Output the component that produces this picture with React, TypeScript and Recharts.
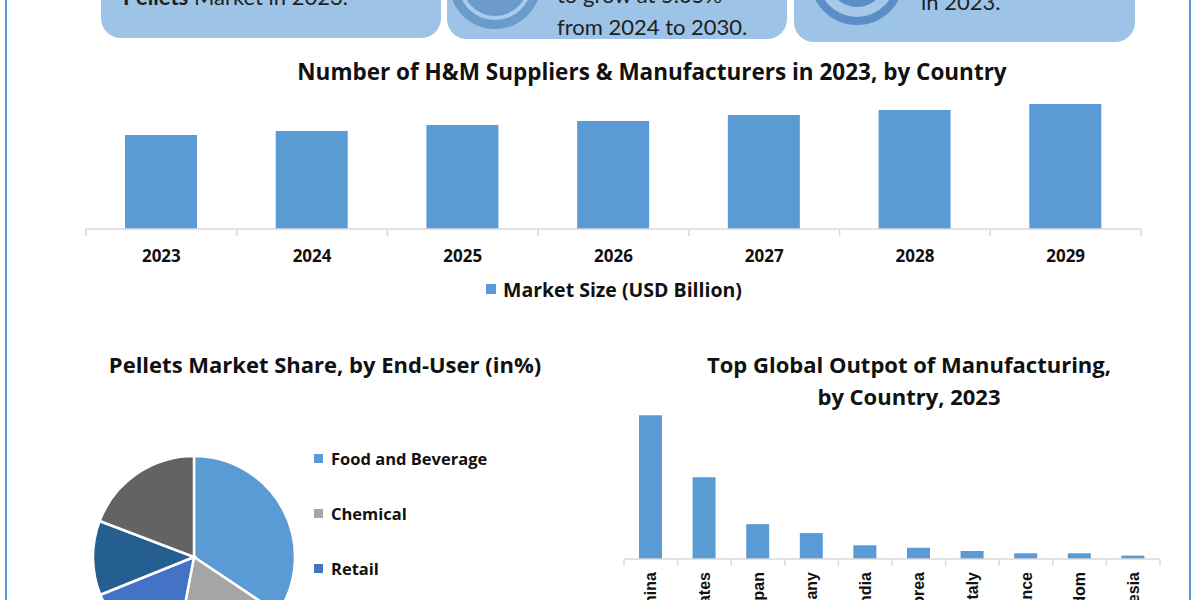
import React from 'react'
import { BarChart, Bar, XAxis, YAxis, PieChart, Pie, Cell } from 'recharts'

// market size bars (top)
const years = ['2023', '2024', '2025', '2026', '2027', '2028', '2029']
const marketSize = [9.4, 9.8, 10.4, 10.8, 11.4, 11.9, 12.5]

// end-user share pie
const endUsers = ['Food and Beverage', 'Chemical', 'Retail', 'Pharmaceutical', 'Others']
const endUserShare = [34.4, 18.6, 15.9, 11.9, 19.2]
const endUserColors = ['#5B9BD5', '#A5A5A5', '#4472C4', '#255E91', '#636363']

// manufacturing output bars (bottom right)
const countries = ['China', 'United States', 'Japan', 'Germany', 'India', 'South Korea', 'Italy', 'France', 'United Kingdom', 'Indonesia']
const manufacturingOutput = [4660, 2650, 1130, 840, 445, 365, 260, 185, 185, 110]

const FONT = 'Lato, "Open Sans", sans-serif'
const BOLD = '"Open Sans", Lato, sans-serif'
const BLUE = '#5B9BD5'
const AXIS = '#D9D9D9'

const marketData = years.map((y, i) => ({ year: y, value: marketSize[i] }))
const shareData = endUsers.map((n, i) => ({ name: n, value: endUserShare[i] }))
const outputData = countries.map((c, i) => ({ country: c, value: manufacturingOutput[i] }))

// tick marks sit on the category edges, like Excel
function EdgeMarks({ x, y, payload, count }: any) {
  const half = payload && payload.offset ? payload.offset : 0
  if (!half) return null
  return (
    <g>
      <line x1={x - half} x2={x - half} y1={y} y2={y + 7} stroke={AXIS} strokeWidth={1.5} />
      {payload.index === count - 1 && (
        <line x1={x + half} x2={x + half} y1={y} y2={y + 7} stroke={AXIS} strokeWidth={1.5} />
      )}
    </g>
  )
}

function YearTick(props: any) {
  const { x, y, payload } = props
  return (
    <g>
      <EdgeMarks {...props} count={years.length} />
      <text x={x} y={y + 33} textAnchor="middle" fontFamily={BOLD} fontWeight={700} fontSize={17} fill="#111">
        {payload.value}
      </text>
    </g>
  )
}

function CountryTick(props: any) {
  const { x, y, payload } = props
  return (
    <g>
      <EdgeMarks {...props} count={countries.length} />
      <text
        transform={`translate(${x},${y + 13}) rotate(-90)`}
        textAnchor="end"
        dominantBaseline="central"
        fontFamily='"Liberation Sans", Arial, sans-serif'
        fontWeight={700}
        fontSize={16}
        fill="#111"
      >
        {payload.value}
      </text>
    </g>
  )
}

function Banner() {
  const txt = { fontFamily: FONT, fontSize: 22, fill: '#1F1F1F' }
  return (
    <svg width={1200} height={60} style={{ position: 'absolute', left: 0, top: 0 }}>
      <rect x={101} y={-60} width={340} height={98} rx={20} fill="#9DC3E6" />
      <rect x={447} y={-60} width={340} height={99} rx={20} fill="#9DC3E6" />
      <rect x={794} y={-60} width={341} height={102} rx={20} fill="#9DC3E6" />
      <circle cx={495} cy={-17} r={46} fill="#6B9BCB" />
      <circle cx={495} cy={-17} r={37} fill="#A9CCEB" />
      <circle cx={495} cy={-17} r={33} fill="#6C9BC9" />
      <circle cx={857} cy={-22} r={47} fill="#5B8EC8" />
      <circle cx={857} cy={-22} r={39} fill="#A6C8E9" />
      <circle cx={857} cy={-22} r={29} fill="#5B8EC8" />
      <text x={123} y={5} {...txt}>
        <tspan fontWeight={700}>Pellets</tspan> Market in 2023.
      </text>
      <text x={557} y={3} {...txt}>to grow at 5.05%</text>
      <text x={557} y={35} {...txt}>from 2024 to 2030.</text>
      <text x={921} y={10} {...txt}>in 2023.</text>
    </svg>
  )
}

const titleStyle: React.CSSProperties = {
  position: 'absolute',
  textAlign: 'center',
  fontFamily: BOLD,
  fontWeight: 700,
  fontSize: 22,
  color: '#111',
  whiteSpace: 'nowrap',
}

export default function App() {
  return (
    <div style={{ position: 'absolute', left: 0, top: 0, width: 1200, height: 600, overflow: 'hidden', background: '#fff', fontFamily: FONT }}>
      <Banner />
      <div style={{ position: 'absolute', left: 5, top: 0, width: 2, height: 600, background: BLUE }} />
      <div style={{ position: 'absolute', left: 1189, top: 0, width: 2, height: 600, background: BLUE }} />

      <div style={{ ...titleStyle, left: 152, top: 57, width: 1000, lineHeight: '30px', fontSize: 22.5 }}>
        Number of H&amp;M Suppliers &amp; Manufacturers in 2023, by Country
      </div>

      <div style={{ position: 'absolute', left: 0, top: 0 }}>
        <BarChart width={1200} height={320} data={marketData} margin={{ top: 104, right: 59, left: 86, bottom: 51 }}>
          <YAxis hide domain={[0, 12.5]} />
          <XAxis dataKey="year" tick={<YearTick />} tickLine={false} tickSize={0} tickMargin={0}
            axisLine={{ stroke: AXIS, strokeWidth: 1.5 }} height={40} interval={0} />
          <Bar dataKey="value" fill={BLUE} barSize={72} isAnimationActive={false} />
        </BarChart>
      </div>

      <div style={{ position: 'absolute', left: 486, top: 278, display: 'flex', alignItems: 'center', height: 22, fontFamily: BOLD }}>
        <span style={{ width: 10, height: 10, background: BLUE, marginRight: 7 }} />
        <span style={{ fontWeight: 700, fontSize: 19.5, color: '#111' }}>Market Size (USD Billion)</span>
      </div>

      <div style={{ ...titleStyle, left: 25, top: 349, width: 600, lineHeight: '30px' }}>
        Pellets Market Share, by End-User (in%)
      </div>

      <div style={{ position: 'absolute', left: 0, top: 400 }}>
        <PieChart width={320} height={200} margin={{ top: 0, right: 0, bottom: 0, left: 0 }}>
          <Pie data={shareData} dataKey="value" nameKey="name" cx={194} cy={157} outerRadius={101}
            startAngle={90} endAngle={-270} stroke="#fff" strokeWidth={2.5} isAnimationActive={false}>
            {shareData.map((d, i) => (
              <Cell key={d.name} fill={endUserColors[i]} />
            ))}
          </Pie>
        </PieChart>
      </div>

      {endUsers.map((n, i) => (
        <div key={n} style={{ position: 'absolute', left: 314, top: 447 + i * 55, display: 'flex', alignItems: 'center', height: 22, fontFamily: BOLD }}>
          <span style={{ width: 9, height: 9, background: endUserColors[i], marginRight: 8 }} />
          <span style={{ fontWeight: 700, fontSize: 16.5, color: '#111' }}>{n}</span>
        </div>
      ))}

      <div style={{ ...titleStyle, left: 659, top: 348, width: 500, lineHeight: '32px' }}>
        Top Global Outpot of Manufacturing,<br />by Country, 2023
      </div>

      <div style={{ position: 'absolute', left: 600, top: 380 }}>
        <BarChart width={600} height={220} data={outputData} margin={{ top: 31, right: 40, left: 24, bottom: 0 }}>
          <YAxis hide domain={[0, 4800]} />
          <XAxis dataKey="country" tick={<CountryTick />} tickLine={false} tickSize={0} tickMargin={0}
            axisLine={{ stroke: AXIS, strokeWidth: 1.5 }} height={41} interval={0} />
          <Bar dataKey="value" fill={BLUE} barSize={23} isAnimationActive={false} />
        </BarChart>
      </div>
    </div>
  )
}
